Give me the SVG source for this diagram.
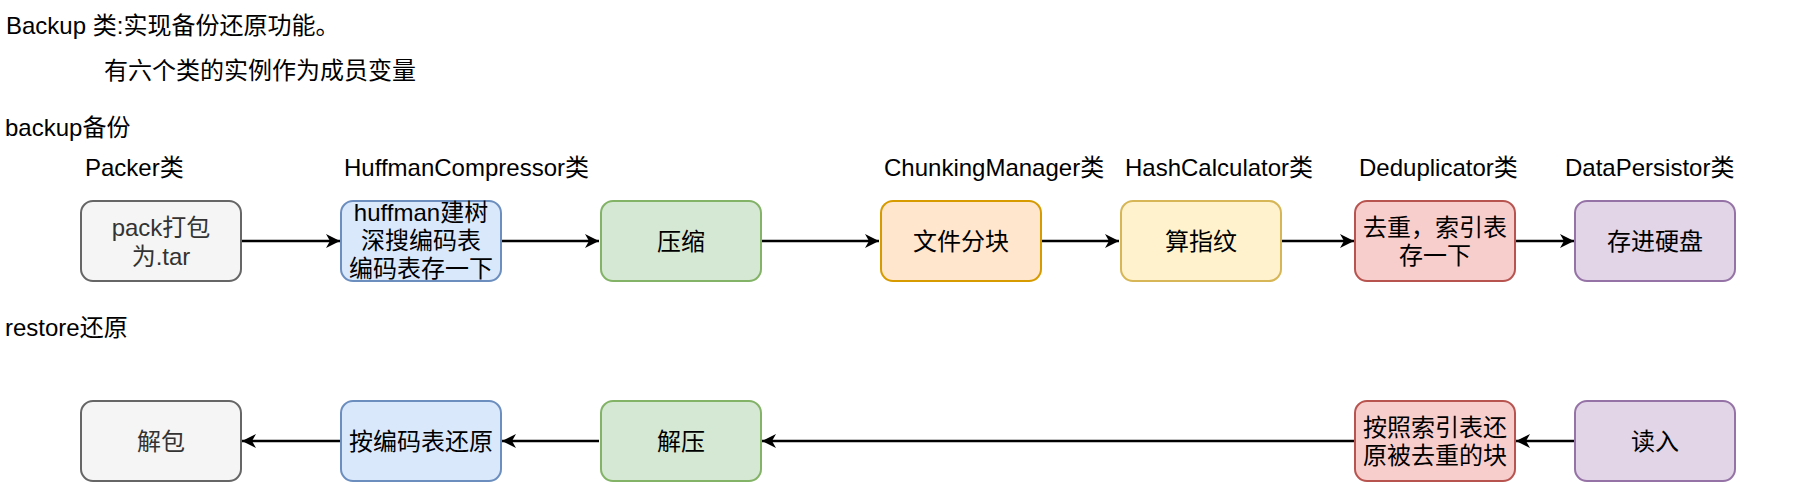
<svg xmlns="http://www.w3.org/2000/svg" width="1800" height="482" viewBox="0 0 1800 482">
<style>
text{font-family:"Liberation Sans","Noto Sans CJK SC",sans-serif;font-size:24px;fill:#000}
.c{text-anchor:middle;dominant-baseline:central}
.l{dominant-baseline:central}
.box{stroke-width:2}
.gray{fill:#f5f5f5;stroke:#666666}
.blue{fill:#dae8fc;stroke:#6c8ebf}
.green{fill:#d5e8d4;stroke:#82b366}
.orange{fill:#ffe6cc;stroke:#d79b00}
.yellow{fill:#fff2cc;stroke:#d6b656}
.red{fill:#f8cecc;stroke:#b85450}
.purple{fill:#e1d5e7;stroke:#9673a6}
.edge{stroke:#000;stroke-width:2.5;fill:none;marker-end:url(#arr)}
.dark{fill:#333333}
</style>
<defs>
<marker id="arr" markerUnits="userSpaceOnUse" markerWidth="16" markerHeight="14" refX="14" refY="7" orient="auto">
<path d="M0,0 L14,7 L0,14 L4,7 Z" fill="#000"/>
</marker>
</defs>
<rect width="1800" height="482" fill="#fff"/>
<g id="labels">
<text class="l" x="6" y="25">Backup 类:实现备份还原功能。</text>
<text class="l" x="104" y="70">有六个类的实例作为成员变量</text>
<text class="l" x="5" y="127">backup备份</text>
<text class="l" x="85" y="167">Packer类</text>
<text class="l" x="344" y="167">HuffmanCompressor类</text>
<text class="l" x="884" y="167">ChunkingManager类</text>
<text class="l" x="1125" y="167">HashCalculator类</text>
<text class="l" x="1359" y="167">Deduplicator类</text>
<text class="l" x="1565" y="167">DataPersistor类</text>
<text class="l" x="5" y="327">restore还原</text>
</g>
<g id="connectors">
<line class="edge" x1="242" y1="241" x2="340" y2="241"/>
<line class="edge" x1="502" y1="241" x2="599" y2="241"/>
<line class="edge" x1="762" y1="241" x2="879" y2="241"/>
<line class="edge" x1="1042" y1="241" x2="1119" y2="241"/>
<line class="edge" x1="1282" y1="241" x2="1354" y2="241"/>
<line class="edge" x1="1516" y1="241" x2="1574" y2="241"/>
<line class="edge" x1="1574" y1="441" x2="1516" y2="441"/>
<line class="edge" x1="1354" y1="441" x2="762" y2="441"/>
<line class="edge" x1="599" y1="441" x2="502" y2="441"/>
<line class="edge" x1="340" y1="441" x2="242" y2="441"/>
</g>
<g id="pack">
<rect class="box gray" x="81" y="201" width="160" height="80" rx="12"/>
<text class="c dark" x="161" y="227">pack打包</text>
<text class="c dark" x="161" y="256">为.tar</text>
</g>
<g id="huffman">
<rect class="box blue" x="341" y="201" width="160" height="80" rx="12"/>
<text class="c" x="421" y="212">huffman建树</text>
<text class="c" x="421" y="240">深搜编码表</text>
<text class="c" x="421" y="268">编码表存一下</text>
</g>
<g id="compress">
<rect class="box green" x="601" y="201" width="160" height="80" rx="12"/>
<text class="c" x="681" y="241">压缩</text>
</g>
<g id="chunk">
<rect class="box orange" x="881" y="201" width="160" height="80" rx="12"/>
<text class="c" x="961" y="241">文件分块</text>
</g>
<g id="hash">
<rect class="box yellow" x="1121" y="201" width="160" height="80" rx="12"/>
<text class="c" x="1201" y="241">算指纹</text>
</g>
<g id="dedup">
<rect class="box red" x="1355" y="201" width="160" height="80" rx="12"/>
<text class="c" x="1435" y="227">去重，索引表</text>
<text class="c" x="1435" y="255">存一下</text>
</g>
<g id="persist">
<rect class="box purple" x="1575" y="201" width="160" height="80" rx="12"/>
<text class="c" x="1655" y="241">存进硬盘</text>
</g>
<g id="unpack">
<rect class="box gray" x="81" y="401" width="160" height="80" rx="12"/>
<text class="c dark" x="161" y="441">解包</text>
</g>
<g id="decode">
<rect class="box blue" x="341" y="401" width="160" height="80" rx="12"/>
<text class="c" x="421" y="441">按编码表还原</text>
</g>
<g id="decompress">
<rect class="box green" x="601" y="401" width="160" height="80" rx="12"/>
<text class="c" x="681" y="441">解压</text>
</g>
<g id="restoredup">
<rect class="box red" x="1355" y="401" width="160" height="80" rx="12"/>
<text class="c" x="1435" y="427">按照索引表还</text>
<text class="c" x="1435" y="455">原被去重的块</text>
</g>
<g id="read">
<rect class="box purple" x="1575" y="401" width="160" height="80" rx="12"/>
<text class="c" x="1655" y="441">读入</text>
</g>
</svg>
